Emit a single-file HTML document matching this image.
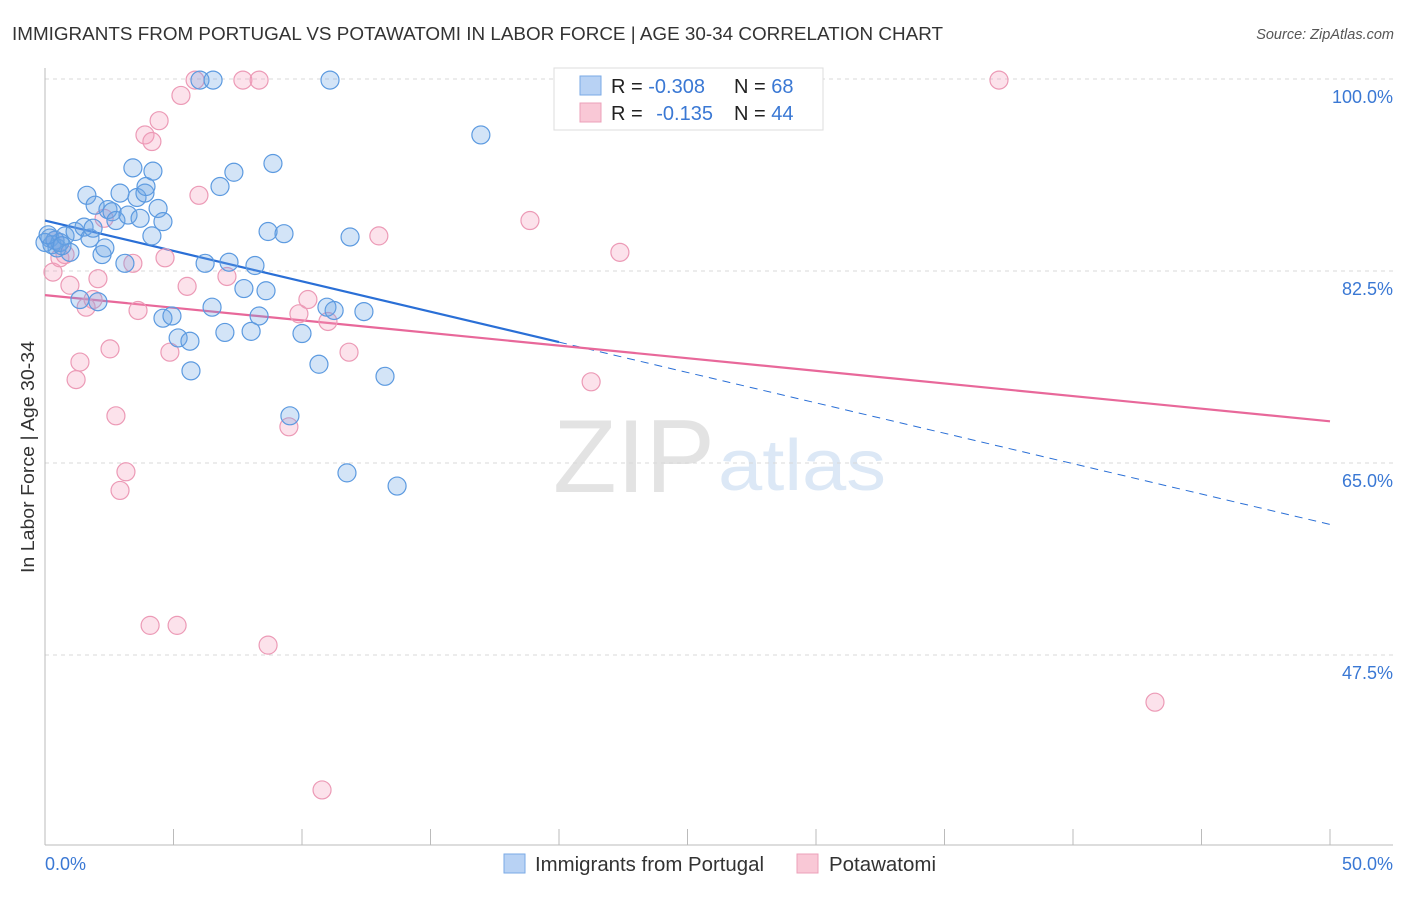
<!DOCTYPE html>
<html><head><meta charset="utf-8"><style>
body{margin:0;background:#fff;font-family:"Liberation Sans",sans-serif;}
svg text{font-family:"Liberation Sans",sans-serif;}
</style></head><body>
<svg id="chart" width="1406" height="892" xmlns="http://www.w3.org/2000/svg">
<text x="12" y="40" font-size="18" fill="#333" textLength="931" lengthAdjust="spacingAndGlyphs">IMMIGRANTS FROM PORTUGAL VS POTAWATOMI IN LABOR FORCE | AGE 30-34 CORRELATION CHART</text>
<text x="1394" y="39" font-size="14.5" fill="#555" font-style="italic" text-anchor="end">Source: ZipAtlas.com</text>
<g>
<text x="553" y="492" font-size="104" font-family="Liberation Serif,serif" fill="#e3e3e3" textLength="162" lengthAdjust="spacingAndGlyphs">ZIP</text>
<text x="718" y="490" font-size="72" fill="#dce8f6" textLength="168" lengthAdjust="spacingAndGlyphs">atlas</text>
</g>
<g id="grid"></g>
<g id="axes"></g>
<g id="trend"></g>
<g id="points"></g>
<text transform="translate(34,457) rotate(-90)" font-size="18" fill="#333" text-anchor="middle" textLength="232" lengthAdjust="spacingAndGlyphs">In Labor Force | Age 30-34</text>
<g>
<rect x="554" y="68" width="269" height="62" fill="#fff" stroke="#ddd"/>
<rect x="580" y="76" width="21" height="19" fill="#b8d2f4" stroke="#7aaae6"/>
<rect x="580" y="103" width="21" height="19" fill="#f9c8d6" stroke="#eca0b9"/>
<text x="611" y="93" font-size="20" fill="#222">R = <tspan fill="#3a78d4">-0.308</tspan></text>
<text x="734" y="93" font-size="20" fill="#222">N = <tspan fill="#3a78d4">68</tspan></text>
<text x="611" y="120" font-size="20" fill="#222">R = <tspan fill="#3a78d4" dx="8">-0.135</tspan></text>
<text x="734" y="120" font-size="20" fill="#222">N = <tspan fill="#3a78d4">44</tspan></text>
</g>
<g>
<rect x="504" y="854" width="21" height="19" fill="#b8d2f4" stroke="#7aaae6"/>
<text x="535" y="871" font-size="20" fill="#333" textLength="229" lengthAdjust="spacingAndGlyphs">Immigrants from Portugal</text>
<rect x="797" y="854" width="21" height="19" fill="#f9c8d6" stroke="#eca0b9"/>
<text x="829" y="871" font-size="20" fill="#333" textLength="107" lengthAdjust="spacingAndGlyphs">Potawatomi</text>
</g>
</svg>
<script>
const yTicks=[100,82.5,65,47.5];
const yTickLabels=["100.0%","82.5%","65.0%","47.5%"];
const xTickLabels=["0.0%","50.0%"];
const blueX=[0.19,0.27,0.39,0.47,0.58,0.78,0.97,1.17,1.36,1.52,1.63,1.75,1.87,1.95,2.06,2.22,2.33,2.45,2.61,2.76,2.92,3.11,3.23,3.42,3.58,3.70,3.89,3.93,4.16,4.20,4.40,4.59,4.59,4.94,5.18,5.64,5.68,6.03,6.23,6.50,6.54,6.81,7.00,7.16,7.35,7.74,8.02,8.17,8.33,8.60,8.68,8.87,9.30,9.53,10.0,10.66,10.97,11.09,11.25,11.75,11.87,12.41,13.23,13.70,16.96,0,0.12,0.66];
const blueY=[85.5,84.9,85.3,84.6,85.1,85.7,84.2,86.1,79.9,86.5,89.4,85.5,86.4,88.5,79.7,84.0,84.6,88.1,87.9,87.1,89.6,83.2,87.6,91.9,89.2,87.3,89.6,90.2,85.7,91.6,88.2,87.0,78.2,78.4,76.4,76.1,73.4,99.9,83.2,79.2,99.9,90.2,76.9,83.3,91.5,80.9,77.0,83.0,78.4,80.7,86.1,92.3,85.9,69.3,76.8,74.0,79.2,99.9,78.9,64.1,85.6,78.8,72.9,62.9,94.9,85.1,85.8,84.8];
const pinkX=[0.31,0.39,0.58,0.78,0.97,1.21,1.36,1.60,1.87,2.06,2.53,2.76,2.92,3.15,3.42,3.62,3.89,4.09,4.16,4.44,4.67,4.86,5.14,5.29,5.53,5.84,5.99,7.08,7.70,8.33,8.68,9.49,9.88,10.23,10.78,11.01,11.83,12.99,18.87,21.25,22.37,37.12,43.19,2.30];
const pinkY=[82.4,85.3,83.7,84.0,81.2,72.6,74.2,79.2,79.9,81.8,75.4,69.3,62.5,64.2,83.2,78.9,94.9,50.2,94.3,96.2,83.7,75.1,50.2,98.5,81.1,99.9,89.4,82.0,99.9,99.9,48.4,68.3,78.6,79.9,35.2,77.9,75.1,85.7,87.1,72.4,84.2,99.9,43.2,87.3];
const blueTrend=[87.1,59.4];
const pinkTrend=[80.3,68.8];
const blueSolidEnd=20;

const NS="http://www.w3.org/2000/svg";
const sx=v=>45+v*(1285/50);
const sy=v=>79+(100-v)*(192/17.5);
function mk(tag,attrs,parent){const e=document.createElementNS(NS,tag);for(const k in attrs)e.setAttribute(k,attrs[k]);parent.appendChild(e);return e;}
const grid=document.getElementById('grid'),axes=document.getElementById('axes'),trend=document.getElementById('trend'),pts=document.getElementById('points');
yTicks.forEach((t,i)=>{
  const l=mk('line',{x1:45,x2:1393,y1:sy(t),y2:sy(t),stroke:'#d8d8d8','stroke-dasharray':'4,4'},grid);
  
  
  const tx=mk('text',{x:1393,y:sy(t)+24,'font-size':18,fill:'#3a78d4','text-anchor':'end'},grid);
  tx.textContent=yTickLabels[i];
  
  
});
const ya=mk('line',{x1:45,x2:45,y1:68,y2:845,stroke:'#bbb'},axes);


const xa=mk('line',{x1:45,x2:1393,y1:845,y2:845,stroke:'#bbb'},axes);


for(let v=5;v<=50;v+=5){
  const tk=mk('line',{x1:sx(v),x2:sx(v),y1:829,y2:845,stroke:'#bbb'},axes);
  
  
}
[[0,'start',45],[50,'end',1393]].forEach((d,i)=>{
  const t=mk('text',{x:d[2],y:870,'font-size':18,fill:'#3a78d4','text-anchor':d[1]},axes);
  t.textContent=xTickLabels[i];
  
  
});
function pointsOf(xs,ys,fill,stroke,name){
  xs.forEach((x,i)=>{
    const c=mk('circle',{cx:sx(x),cy:sy(ys[i]),r:9,fill:fill,stroke:stroke,'stroke-width':1.2},pts);
    
    
  });
}
pointsOf(pinkX,pinkY,'rgba(244,160,190,0.3)','#ec9ab6','potawatomi-point');
pointsOf(blueX,blueY,'rgba(110,165,230,0.3)','#5c9ae0','portugal-point');
const bAt=x=>blueTrend[0]+(blueTrend[1]-blueTrend[0])*x/50;
const bl=mk('line',{x1:sx(0),y1:sy(bAt(0)),x2:sx(blueSolidEnd),y2:sy(bAt(blueSolidEnd)),stroke:'#2a6fd6','stroke-width':2.2},trend);


const bd=mk('line',{x1:sx(blueSolidEnd),y1:sy(bAt(blueSolidEnd)),x2:sx(50),y2:sy(bAt(50)),stroke:'#2a6fd6','stroke-width':1,'stroke-dasharray':'8,6'},trend);


const pl=mk('line',{x1:sx(0),y1:sy(pinkTrend[0]),x2:sx(50),y2:sy(pinkTrend[1]),stroke:'#e8689a','stroke-width':2.2},trend);


</script>
</body></html>
